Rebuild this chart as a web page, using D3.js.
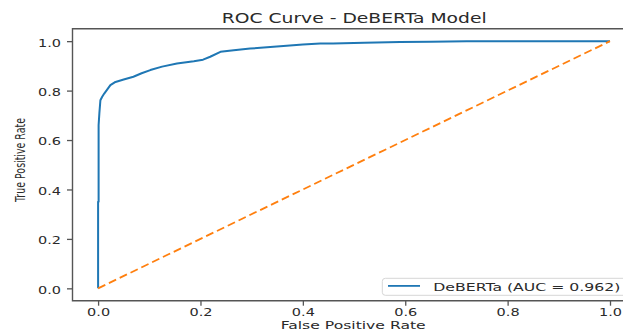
<!DOCTYPE html>
<html>
<head>
<meta charset="utf-8">
<script src="https://cdn.jsdelivr.net/npm/d3@7"></script>
<style>
  html, body { margin: 0; padding: 0; background: #fff; }
  svg { display: block; font-family: "DejaVu Sans", sans-serif; }
</style>
</head>
<body>
<svg id="chart" width="623" height="331"></svg>
<script>
// ---- data ----
const rocFpr = [0, 0, 0.001, 0.001, 0.0025, 0.0045, 0.008, 0.012, 0.018, 0.024, 0.034, 0.05, 0.069, 0.085, 0.102, 0.125, 0.154, 0.187, 0.205, 0.219, 0.239, 0.265, 0.297, 0.33, 0.362, 0.40, 0.434, 0.459, 0.52, 0.59, 0.65, 0.72, 0.85, 1.0];
const rocTpr = [0, 0.35, 0.35, 0.66, 0.709, 0.761, 0.775, 0.788, 0.805, 0.822, 0.835, 0.845, 0.856, 0.87, 0.883, 0.897, 0.910, 0.919, 0.925, 0.937, 0.957, 0.963, 0.970, 0.975, 0.980, 0.986, 0.991, 0.991, 0.994, 0.997, 0.998, 1.0, 1.0, 1.0];
const chanceFpr = [0, 1];
const chanceTpr = [0, 1];
const xTicks = [0.0, 0.2, 0.4, 0.6, 0.8, 1.0];
const yTicks = [0.0, 0.2, 0.4, 0.6, 0.8, 1.0];
const titleText = "ROC Curve - DeBERTa Model";
const xLabelText = "False Positive Rate";
const yLabelText = "True Positive Rate";
const legendText = "DeBERTa (AUC = 0.962)";

// ---- layout ----
const svg = d3.select("#chart");
const plotL = 72.5, plotR = 635.6, plotT = 28.8, plotB = 300.7;
const x = d3.scaleLinear().domain([-0.05, 1.05]).range([plotL, plotR]);
const y = d3.scaleLinear().domain([-0.05, 1.05]).range([plotB, plotT]);
const textColor = "#2a2a2a";
const spineColor = "#555";

// lines
const roc = rocFpr.map((v, i) => [v, rocTpr[i]]);
const chance = chanceFpr.map((v, i) => [v, chanceTpr[i]]);
const line = d3.line().x(d => x(d[0])).y(d => y(d[1]));

svg.append("path").datum(roc)
  .attr("d", line).attr("fill", "none")
  .attr("stroke", "#1f77b4").attr("stroke-width", 2)
  .attr("stroke-linejoin", "round");

svg.append("path").datum(chance)
  .attr("d", line).attr("fill", "none")
  .attr("stroke", "#ff7f0e").attr("stroke-width", 1.8)
  .attr("stroke-dasharray", "8,4");

// axes
const yAxis = svg.append("g").attr("transform", `translate(${plotL},0)`)
  .call(d3.axisLeft(y).tickValues(yTicks).tickFormat(d3.format(".1f")).tickSize(5.5).tickPadding(6));
const xAxis = svg.append("g").attr("transform", `translate(0,${plotB})`)
  .call(d3.axisBottom(x).tickValues(xTicks).tickFormat(d3.format(".1f")).tickSize(5).tickPadding(6));

[xAxis, yAxis].forEach(a => {
  a.select(".domain").remove();
  a.selectAll(".tick line").attr("stroke", spineColor).attr("stroke-width", 1.3);
  a.selectAll(".tick text").attr("fill", textColor)
    .attr("font-size", 11).attr("font-family", "DejaVu Sans")
    .attr("textLength", 23).attr("lengthAdjust", "spacingAndGlyphs");
});
yAxis.selectAll(".tick text").attr("dy", "0.45em");
xAxis.selectAll(".tick text").attr("y", 15.3).attr("dy", 0);

// spines
svg.append("path")
  .attr("d", `M${plotR},${plotT} H${plotL} V${plotB} H${plotR}`)
  .attr("fill", "none").attr("stroke", spineColor).attr("stroke-width", 1.4);

// title
svg.append("text").attr("x", 221.7).attr("y", 22.7)
  .attr("font-size", 14).attr("fill", textColor)
  .attr("textLength", 265).attr("lengthAdjust", "spacingAndGlyphs")
  .text(titleText);

// x label
svg.append("text").attr("x", 280.7).attr("y", 329.3)
  .attr("font-size", 11).attr("fill", textColor)
  .attr("textLength", 145).attr("lengthAdjust", "spacingAndGlyphs")
  .text(xLabelText);

// y label
svg.append("text")
  .attr("transform", "translate(25,160) rotate(-90)")
  .attr("text-anchor", "middle")
  .attr("font-size", 13.5).attr("fill", textColor)
  .attr("textLength", 84).attr("lengthAdjust", "spacingAndGlyphs")
  .text(yLabelText);

// legend
const lg = svg.append("g");
lg.append("rect").attr("x", 382.3).attr("y", 278.3).attr("width", 246).attr("height", 17)
  .attr("rx", 3).attr("fill", "#fff").attr("fill-opacity", 0.85)
  .attr("stroke", "#d6d6d6").attr("stroke-width", 1);
lg.append("line").attr("x1", 388).attr("x2", 420).attr("y1", 285.9).attr("y2", 285.9)
  .attr("stroke", "#1f77b4").attr("stroke-width", 1.8);
lg.append("text").attr("x", 433.3).attr("y", 290.5)
  .attr("font-size", 11).attr("fill", textColor)
  .attr("textLength", 187).attr("lengthAdjust", "spacingAndGlyphs")
  .text(legendText);
</script>
</body>
</html>
